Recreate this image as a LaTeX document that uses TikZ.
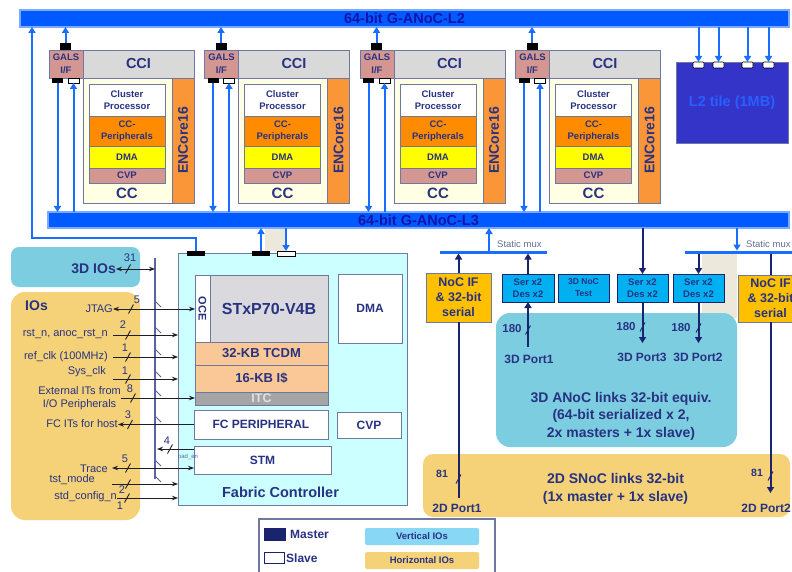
\documentclass[tikz,border=0pt]{standalone}
\usepackage{fontspec}
\setmainfont{Liberation Sans}
\usetikzlibrary{arrows.meta,calc}
\definecolor{busblue}{RGB}{0,90,255}
\definecolor{buslight}{RGB}{120,170,255}
\definecolor{bustxt}{RGB}{20,20,170}
\definecolor{arrblue}{RGB}{25,110,255}
\definecolor{navy}{RGB}{25,35,110}
\definecolor{txt}{RGB}{40,50,130}
\definecolor{bord}{RGB}{110,120,160}
\definecolor{rose}{RGB}{212,150,145}
\definecolor{ccigray}{RGB}{217,217,217}
\definecolor{ccyel}{RGB}{255,255,228}
\definecolor{encor}{RGB}{250,150,55}
\definecolor{perior}{RGB}{255,140,0}
\definecolor{dmay}{RGB}{255,255,0}
\definecolor{l2fill}{RGB}{52,52,200}
\definecolor{l2txt}{RGB}{40,95,255}
\definecolor{fccyan}{RGB}{204,255,255}
\definecolor{stxgray}{RGB}{218,218,222}
\definecolor{peach}{RGB}{250,200,150}
\definecolor{itcgray}{RGB}{165,165,165}
\definecolor{itctxt}{RGB}{225,225,225}
\definecolor{sky}{RGB}{125,205,225}
\definecolor{gold}{RGB}{245,210,120}
\definecolor{nocor}{RGB}{255,192,0}
\definecolor{serblue}{RGB}{0,176,240}
\definecolor{beige}{RGB}{236,233,220}
\definecolor{legsky}{RGB}{135,215,245}
\definecolor{sigc}{RGB}{30,30,40}
\definecolor{vbusc}{RGB}{90,100,160}
\definecolor{muxtxt}{RGB}{100,110,150}
\newcommand\fz[2]{\fontsize{#1}{#2}\selectfont}
\begin{document}
\begin{tikzpicture}[x=1pt,y=-1pt,
  box/.style={draw=bord,line width=0.6pt,inner sep=0pt,outer sep=0pt,anchor=north west,text=txt,align=center},
  sz/.style 2 args={minimum width=#1pt,minimum height=#2pt},
  lab/.style={text=txt,inner sep=0pt,align=center},
  sigl/.style={lab,font=\fz{11}{12.5}},
  nm/.style={lab,font=\fz{11}{12}},
  nmb/.style={lab,font=\fz{11.5}{13}\bfseries},
  barr/.style={draw=arrblue,line width=2pt,-{Triangle[length=6pt,width=7pt]}},
  narr/.style={draw=navy,line width=2pt,-{Triangle[length=6pt,width=7pt]}},
  nline/.style={draw=navy,line width=2pt},
  sig/.style={draw=sigc,line width=0.9pt},
  sarr/.style={sig,-{Stealth[length=6pt,width=4.5pt]}},
  sdarr/.style={sig,{Stealth[length=6pt,width=4.5pt]}-{Stealth[length=6pt,width=4.5pt]}},
  slash/.pic={\draw[line width=0.9pt] (-2.5,4.5) -- (2.5,-4.5);},
]
\clip (0,0) rectangle (792,572);
\fill[white] (0,0) rectangle (792,572);

% ---------- buses ----------
\node[box,fill=busblue,draw=buslight,line width=1.5pt,sz={769}{17}] (l2) at (20,10) {};
\node[lab,text=bustxt,font=\fz{14.5}{16}\bfseries] (l2lab) at (l2.center) {64-bit G-ANoC-L2};
\node[box,fill=busblue,draw=buslight,line width=1.5pt,sz={741}{16}] (l3) at (48,212) {};
\node[lab,text=bustxt,font=\fz{14.5}{16}\bfseries] (l3lab) at (l3.center) {64-bit G-ANoC-L3};

\fill[beige] (265,229) rectangle (285,251);
\fill[beige] (702,253) rectangle (737,318);

% ---------- clusters ----------
\foreach \i in {0,1,2,3}{
  \pgfmathsetmacro\d{\i*155.5}
  \node[box,fill=rose,sz={34}{28},font=\fz{9.5}{12.5}\bfseries] (gals\i) at (49+\d,50) {GALS\\I/F};
  \node[box,fill=black,draw=none,sz={11}{7}] (gm\i) at (60+\d,43) {};
  \node[box,fill=black,draw=none,sz={11}{5}] (gb\i) at (52+\d,78) {};
  \node[box,fill=white,draw=black,sz={11}{5}] (gw\i) at (68+\d,78) {};
  \node[box,fill=ccigray,sz={111}{28},font=\fz{14.5}{16}\bfseries] (cci\i) at (83+\d,50) {CCI};
  \node[box,fill=ccyel,sz={89}{125}] (cc\i) at (83+\d,78) {};
  \node[box,fill=encor,sz={22}{125}] (enc\i) at (172+\d,78) {};
  \node[lab,rotate=90,font=\fz{14}{16}\bfseries] (enclab\i) at (enc\i.center) {ENCore16};
  \node[box,fill=white,sz={76}{32},font=\fz{9.5}{12}\bfseries] (cp\i) at (89+\d,84) {Cluster\\Processor};
  \node[box,fill=perior,sz={76}{30},font=\fz{9.5}{12}\bfseries] (per\i) at (89+\d,116) {CC-\\Peripherals};
  \node[box,fill=dmay,sz={76}{22},font=\fz{9.5}{11}\bfseries] (dma\i) at (89+\d,146) {DMA};
  \node[box,fill=rose,sz={76}{15},font=\fz{9.5}{11}\bfseries] (cvp\i) at (89+\d,168) {CVP};
  \node[lab,font=\fz{15}{16}\bfseries] (cclab\i) at (127+\d,193) {CC};
  \draw[barr] (gm\i.north) -- (gm\i.north |- l2.south);
  \draw[barr] (gb\i.south) -- (gb\i.south |- l3.north);
  \draw[barr] (gw\i.south |- l3.north) -- (gw\i.south);
}

% ---------- L2 tile ----------
\node[box,fill=l2fill,draw=bord,sz={112}{81},font=\fz{14.5}{16}\bfseries,text=l2txt] (l2t) at (676,62) {L2 tile (1MB)};
\foreach \x [count=\k] in {693,713,742,763}{
  \node[box,fill=white,draw=black,rounded corners=1pt,sz={11}{6}] (l2p\k) at (\x,62) {};
  \draw[barr] (l2p\k.north |- l2.south) -- (l2p\k.north);
}

% ---------- left IO boxes ----------
\node[box,fill=sky,draw=none,rounded corners=8pt,sz={129}{40}] (io3d) at (11,247) {};
\node[box,fill=gold,draw=none,rounded corners=14pt,sz={129}{228}] (ios) at (11,292) {};
\node[lab,font=\fz{14}{16}\bfseries] (ioslab) at (36.5,306) {IOs};

% ---------- Fabric controller ----------
\node[box,fill=fccyan,draw=bord,line width=1pt,sz={229}{252}] (fc) at (178,253) {};
\node[box,fill=black,draw=none,sz={18}{5}] (fcm) at (187,251) {};
\node[box,fill=black,draw=none,sz={18}{5}] (fcm2) at (252,251) {};
\node[box,fill=white,draw=black,sz={18}{5}] (fcs) at (277,251) {};
\coordinate (fcl) at (32,238);
\draw[barr] (fcm.north) |- (fcl) -- (fcl |- l2.south);
\draw[barr] (fcm2.north) -- (fcm2.north |- l3.south);
\draw[barr] (fcs.north |- l3.south) -- (fcs.north);

\node[box,fill=white,sz={15}{67}] (oce) at (195,275) {};
\node[lab,rotate=-90,font=\fz{11}{12}\bfseries] (ocelab) at (oce.center) {OCE};
\node[box,fill=stxgray,sz={118}{67},font=\fz{16}{18}\bfseries] (stx) at (210,275) {STxP70-V4B};
\node[box,fill=peach,sz={133}{23},font=\fz{13}{14}\bfseries] (tcdm) at (195,342) {32-KB TCDM};
\node[box,fill=peach,sz={133}{27},font=\fz{13}{14}\bfseries] (icache) at (195,365) {16-KB I\$};
\node[box,fill=itcgray,sz={133}{13},font=\fz{12.5}{13}\bfseries,text=itctxt] (itc) at (195,392) {ITC};
\node[box,fill=white,sz={134}{29},font=\fz{12}{14}\bfseries] (fcper) at (194,410) {FC PERIPHERAL};
\node[box,fill=white,sz={64}{26},font=\fz{12}{14}\bfseries] (fccvp) at (337,412) {CVP};
\node[box,fill=white,sz={137}{28},font=\fz{12}{14}\bfseries] (stm) at (194,446) {STM};
\node[box,fill=white,sz={64}{69},font=\fz{12}{14}\bfseries] (fcdma) at (338,274) {DMA};
\node[lab,font=\fz{14.5}{16}\bfseries] (fclab) at (280.5,492) {Fabric Controller};

% ---------- right side ----------
\node[box,fill=sky,draw=none,rounded corners=14pt,sz={241}{134}] (anoc) at (496,313) {};
\node[lab,font=\fz{14}{17.5}\bfseries] (anoclab) at (621,416) {3D ANoC links 32-bit equiv.\\(64-bit serialized x 2,\\2x masters + 1x slave)};
\node[box,fill=gold,draw=none,rounded corners=10pt,sz={367}{63}] (snoc) at (423,454) {};
\node[lab,font=\fz{14}{18}\bfseries] (snoclab) at (615.5,489) {2D SNoC links 32-bit\\(1x master + 1x slave)};

\node[box,fill=arrblue,draw=none,sz={107}{3}] (mux1) at (440,250.5) {};
\node[box,fill=arrblue,draw=none,sz={120}{3}] (mux2) at (685,250.5) {};
\node[lab,text=muxtxt,font=\fz{9.5}{11},anchor=west] (mt1) at (497,244) {Static mux};
\node[lab,text=muxtxt,font=\fz{9.5}{11},anchor=west] (mt2) at (746,244) {Static mux};

\node[box,fill=nocor,sz={65}{49},font=\fz{12.5}{15}\bfseries] (nocL) at (426,273) {NoC IF\\\& 32-bit\\serial};
\node[box,fill=nocor,sz={65}{47},font=\fz{12.5}{15}\bfseries] (nocR) at (738,275) {NoC IF\\\& 32-bit\\serial};
\node[box,fill=serblue,draw=navy,sz={52}{28},font=\fz{9.5}{12.5}\bfseries] (ser1) at (502,274) {Ser x2\\Des x2};
\node[box,fill=serblue,draw=navy,sz={51}{28},font=\fz{8.5}{12}\bfseries] (t3n) at (558,274) {3D NoC\\Test};
\node[box,fill=serblue,draw=navy,sz={51}{28},font=\fz{9.5}{12.5}\bfseries] (ser2) at (617,274) {Ser x2\\Des x2};
\node[box,fill=serblue,draw=navy,sz={51}{28},font=\fz{9.5}{12.5}\bfseries] (ser3) at (673,274) {Ser x2\\Des x2};

\coordinate (m1up) at (489,250.5);
\draw[barr] (m1up) -- (m1up |- l3.south);
\coordinate (m2dn) at (737,250.5);
\draw[barr] (m2dn |- l3.south) -- (m2dn);
\draw[narr] (nocL.north) -- (nocL.north |- mux1.south);
\draw[narr] (ser1.north) -- (ser1.north |- mux1.south);
\draw[narr] (ser2.north |- l3.south) -- (ser2.north);
\draw[narr] (ser3.north |- mux2.south) -- (ser3.north);
\draw[nline] (nocR.north |- mux2.south) -- (nocR.north);

\node[lab,font=\fz{12}{14}\bfseries] (p1) at (529,359) {3D Port1};
\node[lab,font=\fz{12}{14}\bfseries] (p3) at (642,357) {3D Port3};
\node[lab,font=\fz{12}{14}\bfseries] (p2) at (698,357) {3D Port2};
\coordinate (p1s) at (528,347);
\draw[narr] (p1s) -- (p1s |- ser1.south);
\coordinate (p3e) at (642.5,343);
\draw[narr] (ser2.south) -- (p3e);
\coordinate (p2e) at (698.5,343);
\draw[narr] (ser3.south) -- (p2e);
\pic[color=navy] at (528,330) {slash};
\node[nmb] (n180a) at (512,329) {180};
\pic[color=navy] at (642.5,327) {slash};
\node[nmb] (n180b) at (626,327) {180};
\pic[color=navy] at (698.5,328) {slash};
\node[nmb] (n180c) at (681,328) {180};

\coordinate (d1e) at (458.5,498);
\draw[nline] (nocL.south) -- (d1e);
\coordinate (d2e) at (770.5,493);
\draw[narr] (nocR.south) -- (d2e);
\pic[color=navy] at (458.5,479) {slash};
\node[nmb,font=\fz{10.5}{12}\bfseries] (n81a) at (442,474) {81};
\pic[color=navy] at (770.5,476) {slash};
\node[nmb,font=\fz{10.5}{12}\bfseries] (n81b) at (757,473) {81};
\node[lab,font=\fz{12}{14}\bfseries] (d1) at (457,508) {2D Port1};
\node[lab,font=\fz{12}{14}\bfseries,anchor=east] (d2) at (791,508) {2D Port2};

% ---------- legend ----------
\node[box,fill=white,draw=bord,line width=1.2pt,sz={236}{70}] (leg) at (259,519) {};
\node[box,fill=navy,draw=navy,sz={21}{12}] (legm) at (264,528) {};
\node[lab,anchor=west,font=\fz{12}{14}\bfseries] (legmt) at (290,534) {Master};
\node[box,fill=white,draw=navy,line width=1pt,sz={20}{11}] (legs) at (264,552) {};
\node[lab,anchor=west,font=\fz{12}{14}\bfseries] (legst) at (286,558) {Slave};
\node[box,fill=legsky,draw=none,rounded corners=2pt,sz={114}{17},font=\fz{9.5}{11}\bfseries] (legv) at (365,528) {Vertical IOs};
\node[box,fill=gold,draw=none,rounded corners=2pt,sz={114}{17},font=\fz{9.5}{11}\bfseries] (legh) at (365,552) {Horizontal IOs};

% ---------- IO signals ----------
\coordinate (vbt) at (155,258);
\coordinate (vbb) at (155,479);
\draw[vbusc,line width=1.2pt] (vbt) -- (vbb);
\foreach \yy in {309,335,357,379,398,424,468,484}
  \draw[vbusc,line width=0.9pt] (155,\yy-8) -- (161,\yy-2);

\node[lab,font=\fz{14}{16}\bfseries,anchor=east] (t3d) at (116,269) {3D IOs};
\draw[sdarr] (t3d.east) -- (t3d.east -| vbt);
\pic[color=sigc] at (128,269) {slash};
\node[nm] (n31) at (130,258) {31};

\node[sigl,anchor=east] (tjtag) at (113,309) {JTAG};
\draw[sdarr] (tjtag.east) -- (tjtag.east -| oce.west);
\pic[color=sigc] at (131,309) {slash};
\node[nm] (n5a) at (137,300) {5};

\node[sigl,anchor=east] (trst) at (108,334) {rst\_n, anoc\_rst\_n};
\coordinate (crst) at (113,335);
\draw[sarr] (crst) -- (crst -| fc.west);
\pic[color=sigc] at (128,335) {slash};
\node[nm] (n2a) at (123,325) {2};

\node[sigl,anchor=east] (tref) at (108,357) {ref\_clk (100MHz)};
\coordinate (cref) at (113,357);
\draw[sarr] (cref) -- (cref -| fc.west);
\pic[color=sigc] at (128,357) {slash};
\node[nm] (n1a) at (125,348) {1};

\node[sigl,anchor=east] (tsys) at (106,372) {Sys\_clk};
\coordinate (csys) at (113,379);
\draw[sarr] (csys) -- (csys -| fc.west);
\pic[color=sigc] at (128,379) {slash};
\node[nm] (n1b) at (125,371) {1};

\node[sigl,anchor=east] (text) at (121,398) {External ITs from\\I/O Peripherals};
\draw[sarr] (text.east) -- (text.east -| itc.west);
\pic[color=sigc] at (133,398) {slash};
\node[nm] (n8) at (130,389) {8};

\node[sigl,anchor=east] (tfcit) at (118,424) {FC ITs for host};
\draw[sarr] (fcper.west) -- (fcper.west -| tfcit.east);
\pic[color=sigc] at (130,424.5) {slash};
\node[nm] (n3) at (128,415) {3};

\coordinate (cpad) at (157,449);
\draw[sarr] (cpad -| stm.west) -- (cpad);
\pic[color=sigc] at (170,449) {slash};
\node[nm] (n4) at (167,441) {4};
\node[lab,text=vbusc,font=\fz{6}{7}] (tpad) at (188,457) {pad\_en};

\node[sigl,anchor=east] (ttrace) at (108,469) {Trace};
\coordinate (ctrace) at (112,468);
\draw[sdarr] (ctrace) -- (ctrace -| stm.west);
\pic[color=sigc] at (128,468) {slash};
\node[nm] (n5b) at (125,459) {5};

\node[sigl,anchor=east] (ttst) at (95,480) {tst\_mode};
\coordinate (ctst) at (112,484);
\draw[sarr] (ctst) -- (ctst -| fc.west);
\pic[color=sigc] at (128,484) {slash};
\node[nm] (n2b) at (122,490) {2};

\node[sigl,anchor=east] (tstd) at (117,497) {std\_config\_n};
\coordinate (cstd) at (117,498);
\draw[sarr] (cstd) -- (cstd -| fc.west);
\pic[color=sigc] at (127,498) {slash};
\node[nm] (n1c) at (120,506) {1};
\end{tikzpicture}
\end{document}
